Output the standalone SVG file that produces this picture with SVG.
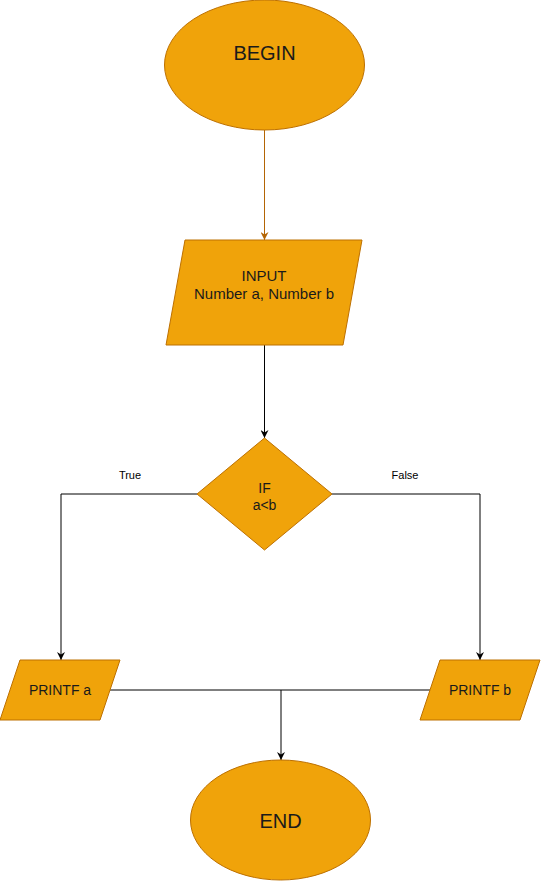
<svg xmlns="http://www.w3.org/2000/svg" width="541" height="881" viewBox="0 0 541 881">
<style>
.n{fill:#f0a30a;stroke:#bd7000;stroke-width:1}
.t{font-family:"Liberation Sans",Arial,sans-serif;fill:#1a1a1a;text-anchor:middle}
.c{fill:none;stroke:#000;stroke-width:1}
.lbl{font-family:"Liberation Sans",Arial,sans-serif;font-size:11px;fill:#000;text-anchor:middle}
</style>
<defs>
<marker id="ab" viewBox="0 0 10 10" refX="10" refY="5" markerWidth="8" markerHeight="8" markerUnits="userSpaceOnUse" orient="auto"><path d="M0,0 L10,5 L0,10 L3,5 Z" fill="#000"/></marker>
<marker id="ao" viewBox="0 0 10 10" refX="10" refY="5" markerWidth="8" markerHeight="8" markerUnits="userSpaceOnUse" orient="auto"><path d="M0,0 L10,5 L0,10 L3,5 Z" fill="#b46504"/></marker>
</defs>
<rect width="541" height="881" fill="#fff"/>
<g id="connectors">
<path d="M264.5,130 V240" class="c" style="stroke:#b46504" marker-end="url(#ao)"/>
<path d="M264.5,345 V438" class="c" marker-end="url(#ab)"/>
<path d="M197,494 H61 V660" class="c" marker-end="url(#ab)"/>
<path d="M332,494 H480 V660" class="c" marker-end="url(#ab)"/>
<path d="M110,690 H430" class="c"/>
<path d="M281,690 V760" class="c" marker-end="url(#ab)"/>
<text x="130" y="479" class="lbl">True</text>
<text x="405" y="479" class="lbl">False</text>
</g>
<g id="begin">
<ellipse cx="264.5" cy="65" rx="100" ry="65" class="n"/>
<text x="264.5" y="60" class="t" font-size="20">BEGIN</text>
</g>
<g id="input">
<polygon points="185,240 362,240 343,345 166,345" class="n"/>
<text x="264" y="281" class="t" font-size="15">INPUT</text>
<text x="264" y="299" class="t" font-size="15">Number a, Number b</text>
</g>
<g id="if">
<polygon points="264.5,438 332,494 264.5,550 197,494" class="n"/>
<text x="264.5" y="493" class="t" font-size="14">IF</text>
<text x="264.5" y="510" class="t" font-size="14">a&lt;b</text>
</g>
<g id="printa">
<polygon points="20,660 120,660 100,720 0,720" class="n"/>
<text x="60" y="695" class="t" font-size="14">PRINTF a</text>
</g>
<g id="printb">
<polygon points="440,660 540,660 520,720 420,720" class="n"/>
<text x="480" y="695" class="t" font-size="14">PRINTF b</text>
</g>
<g id="end">
<ellipse cx="280.5" cy="820" rx="90" ry="60" class="n"/>
<text x="280.5" y="828" class="t" font-size="20">END</text>
</g>
</svg>
